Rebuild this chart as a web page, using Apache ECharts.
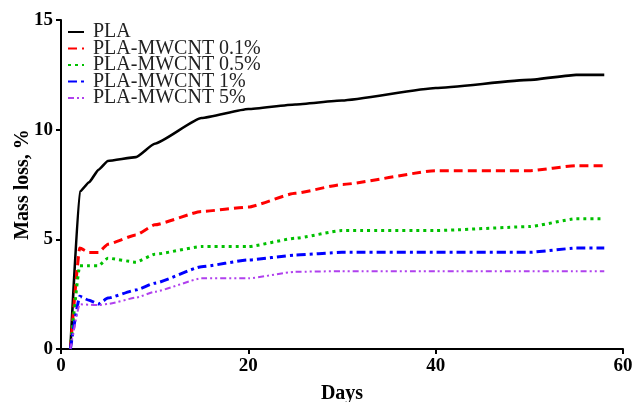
<!DOCTYPE html>
<html>
<head>
<meta charset="utf-8">
<script src="https://cdn.jsdelivr.net/npm/echarts@6/dist/echarts.min.js"></script>
<style>html,body{margin:0;padding:0;background:#fff;}#c{width:632px;height:402px;}</style>
</head>
<body>
<div id="c"></div>
<script>
const days = [1, 2, 3, 4, 5, 8, 10, 15, 20, 25, 30, 40, 50, 55, 58];
const seriesNames = ['PLA', 'PLA-MWCNT 0.1%', 'PLA-MWCNT 0.5%', 'PLA-MWCNT 1%', 'PLA-MWCNT 5%'];
const pla    = [0, 7.17, 7.6, 8.17, 8.57, 8.75, 9.36, 10.53, 10.94, 11.15, 11.33, 11.9, 12.27, 12.5, 12.5];
const cnt01  = [0, 4.6, 4.4, 4.4, 4.78, 5.2, 5.66, 6.27, 6.47, 7.1, 7.5, 8.13, 8.13, 8.36, 8.36];
const cnt05  = [0, 3.79, 3.79, 3.79, 4.14, 3.96, 4.32, 4.67, 4.67, 5.05, 5.4, 5.4, 5.58, 5.94, 5.94];
const cnt1   = [0, 2.4, 2.22, 2.05, 2.32, 2.69, 3.0, 3.75, 4.06, 4.28, 4.41, 4.41, 4.41, 4.6, 4.6];
const cnt5   = [0, 2.04, 2.02, 2.0, 2.05, 2.34, 2.61, 3.22, 3.22, 3.52, 3.55, 3.55, 3.55, 3.55, 3.55];
const xTicks = [0, 20, 40, 60];
const yTicks = [0, 5, 10, 15];

const values = [pla, cnt01, cnt05, cnt1, cnt5];
const colors = ['#000000', '#ff0000', '#00c000', '#0000ff', '#b040ee'];
const dashes = ['solid', [9, 5], [3, 4], [9, 4, 3, 4], [6, 3, 2, 3, 2, 3]];
const widths = [2.6, 3, 3, 3, 2];

const FONT = "'Liberation Serif', 'Times New Roman', serif";
const chart = echarts.init(document.getElementById('c'), null, {renderer: 'canvas'});
chart.setOption({
  animation: false,
  backgroundColor: '#fff',
  grid: {left: 61, right: 9, top: 20, bottom: 53, containLabel: false, outerBoundsMode: 'none'},
  legend: {
    orient: 'vertical', left: 67, top: 22, padding: 0,
    itemWidth: 16, itemHeight: 10, itemGap: -3.5,
    itemStyle: {opacity: 0},
    textStyle: {fontFamily: FONT, fontSize: 20, color: '#222', padding: [0, 0, 0, 4]},
    data: seriesNames
  },
  xAxis: {
    type: 'value', min: 0, max: 60, interval: 20,
    name: 'Days', nameLocation: 'middle', nameGap: 35, nameMoveOverlap: false,
    nameTextStyle: {fontFamily: FONT, fontSize: 20, fontWeight: 'bold', color: '#000'},
    axisLine: {show: true, lineStyle: {color: '#000', width: 2}},
    axisTick: {show: true, length: 5, lineStyle: {color: '#000', width: 2}},
    axisLabel: {fontFamily: FONT, fontSize: 19, fontWeight: 'bold', color: '#000', margin: 8,
      formatter: v => xTicks.includes(v) ? String(v) : ''},
    splitLine: {show: false}
  },
  yAxis: {
    type: 'value', min: 0, max: 15, interval: 5,
    name: 'Mass loss, %', nameLocation: 'middle', nameGap: 28, nameMoveOverlap: false,
    nameTextStyle: {fontFamily: FONT, fontSize: 20, fontWeight: 'bold', color: '#000'},
    axisLine: {show: true, lineStyle: {color: '#000', width: 2}},
    axisTick: {show: true, length: 5, lineStyle: {color: '#000', width: 2}},
    axisLabel: {fontFamily: FONT, fontSize: 19, fontWeight: 'bold', color: '#000', margin: 8,
      formatter: v => yTicks.includes(v) ? String(v) : ''},
    splitLine: {show: false}
  },
  series: seriesNames.map((n, i) => ({
    name: n, type: 'line', symbol: 'none', smooth: 0.15, smoothMonotone: 'x',
    color: colors[i],
    lineStyle: {color: colors[i], width: widths[i], type: dashes[i]},
    data: days.map((d, j) => [d, values[i][j]])
  }))
});
</script>
</body>
</html>
